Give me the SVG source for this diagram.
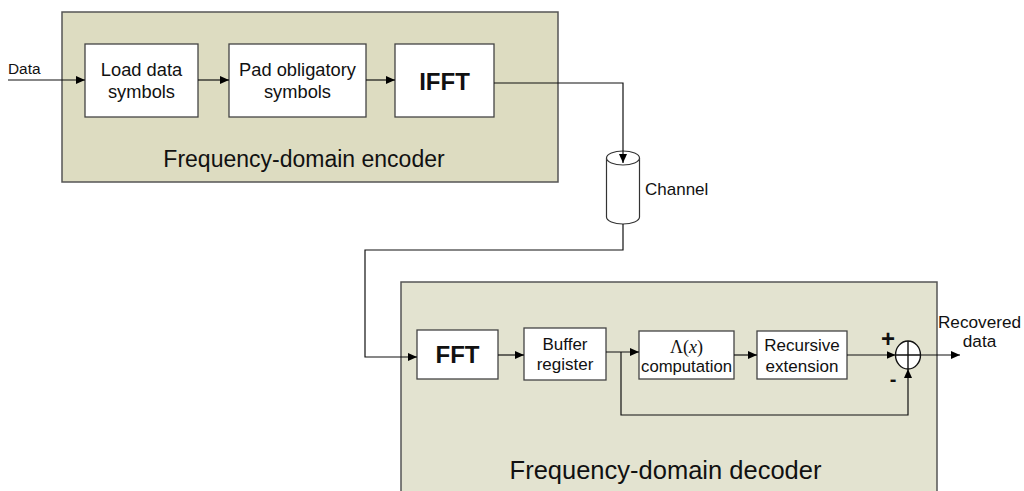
<svg xmlns="http://www.w3.org/2000/svg" width="1024" height="491" viewBox="0 0 1024 491">
<defs>
<marker id="ah" markerWidth="9" markerHeight="8" refX="9" refY="4" orient="auto" markerUnits="userSpaceOnUse">
<path d="M0,0 L9,4 L0,8 Z" fill="#000"/>
</marker>
<style>
.t{font-family:"Liberation Sans",Arial,sans-serif;fill:#111;}
.box{fill:#fff;stroke:#444;stroke-width:1.3;}
.frame{stroke:#555;stroke-width:1.5;}
.ln{fill:none;stroke:#111;stroke-width:1.2;}
</style>
</defs>
<rect width="1024" height="491" fill="#fff"/>
<g id="encoder">
<rect class="frame" x="62" y="12" width="496" height="170" fill="#DDDCC1"/>
<text class="t" x="304" y="167" font-size="23" text-anchor="middle">Frequency-domain encoder</text>
</g>
<g id="decoder">
<rect class="frame" x="401" y="282" width="536" height="230" fill="#E3E3D0"/>
<text class="t" x="665.5" y="479" font-size="25.5" text-anchor="middle">Frequency-domain decoder</text>
</g>
<g id="load">
<rect class="box" x="85" y="44" width="113" height="73"/>
<text class="t" x="141.5" y="76" font-size="18.3" text-anchor="middle">Load data</text>
<text class="t" x="141.5" y="98" font-size="18.3" text-anchor="middle">symbols</text>
</g>
<g id="pad">
<rect class="box" x="229" y="44" width="137" height="73"/>
<text class="t" x="297.5" y="76" font-size="18.3" text-anchor="middle">Pad obligatory</text>
<text class="t" x="297.5" y="98" font-size="18.3" text-anchor="middle">symbols</text>
</g>
<g id="ifft">
<rect class="box" x="395" y="44" width="99" height="73"/>
<text class="t" x="444.5" y="90" font-size="24" font-weight="bold" text-anchor="middle">IFFT</text>
</g>
<g id="channel">
<path d="M606.5,158 L606.5,217 A16.5,7 0 0 0 639.5,217 L639.5,158" fill="#fff" stroke="#333" stroke-width="1.2"/>
<ellipse cx="623" cy="158" rx="16.5" ry="7" fill="#fff" stroke="#333" stroke-width="1.2"/>
<text class="t" x="645" y="195" font-size="17">Channel</text>
</g>
<g id="fft">
<rect class="box" x="417" y="330" width="81" height="49"/>
<text class="t" x="457.5" y="363" font-size="24" font-weight="bold" text-anchor="middle">FFT</text>
</g>
<g id="buffer">
<rect class="box" x="524" y="328" width="82" height="52"/>
<text class="t" x="565" y="350" font-size="17" text-anchor="middle">Buffer</text>
<text class="t" x="565" y="370" font-size="17" text-anchor="middle">register</text>
</g>
<g id="lambda">
<rect class="box" x="639" y="331" width="95" height="48"/>
<text x="686.5" y="353" font-size="18" text-anchor="middle" font-family="Liberation Serif,serif" fill="#111">Λ(<tspan font-style="italic">x</tspan>)</text>
<text class="t" x="686.5" y="372" font-size="16.7" text-anchor="middle">computation</text>
</g>
<g id="recursive">
<rect class="box" x="757" y="331" width="90" height="48"/>
<text class="t" x="802" y="351" font-size="17" text-anchor="middle">Recursive</text>
<text class="t" x="802" y="372" font-size="17" text-anchor="middle">extension</text>
</g>
<g id="sum">
<ellipse cx="908" cy="355" rx="12.5" ry="14" fill="#fff" stroke="#111" stroke-width="1.4"/>
<path d="M895.5,355 H920.5 M908,341 V369" stroke="#111" stroke-width="1.4"/>
<text class="t" x="888" y="347" font-size="24" font-weight="bold" text-anchor="middle">+</text>
<text class="t" x="893" y="386" font-size="20" font-weight="bold" text-anchor="middle">-</text>
</g>
<g id="labels">
<text class="t" x="8" y="74" font-size="15.4">Data</text>
<text class="t" x="979.5" y="328" font-size="17.2" text-anchor="middle">Recovered</text>
<text class="t" x="979.5" y="347" font-size="17.2" text-anchor="middle">data</text>
</g>
<g id="connectors">
<path class="ln" d="M8,80 H85" marker-end="url(#ah)"/>
<path class="ln" d="M198,80 H229" marker-end="url(#ah)"/>
<path class="ln" d="M366,80 H395" marker-end="url(#ah)"/>
<path class="ln" d="M494,83 H623 V163" marker-end="url(#ah)"/>
<path class="ln" d="M623,224 V250 H365 V357 H417" marker-end="url(#ah)"/>
<path class="ln" d="M498,355 H524" marker-end="url(#ah)"/>
<path class="ln" d="M606,352 H639" marker-end="url(#ah)"/>
<path class="ln" d="M621,352 V415 H908 V369" marker-end="url(#ah)"/>
<path class="ln" d="M734,355 H757" marker-end="url(#ah)"/>
<path class="ln" d="M847,355 H895.5" marker-end="url(#ah)"/>
<path class="ln" d="M920.5,355 H960" marker-end="url(#ah)"/>
</g>
</svg>
